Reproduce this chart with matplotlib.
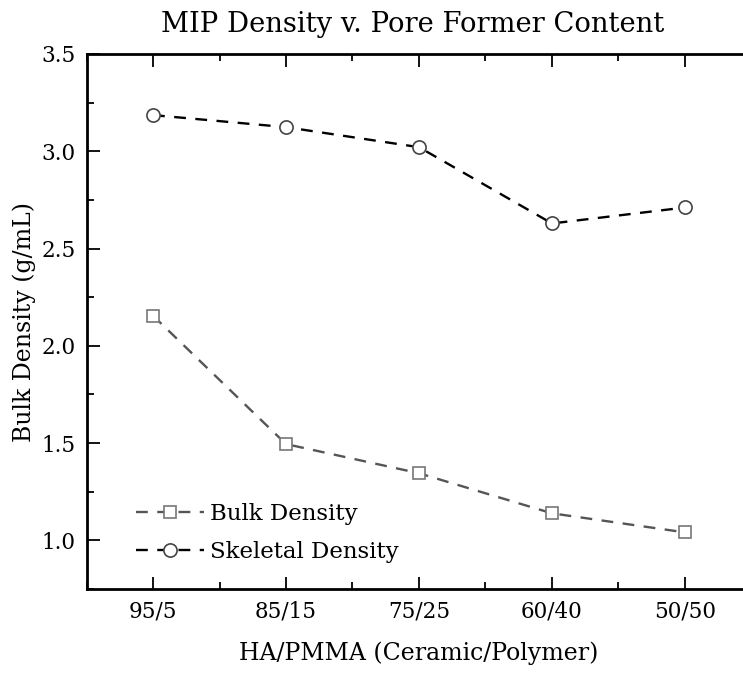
import numpy as np
import matplotlib.pyplot as plt
from matplotlib.ticker import MultipleLocator

plt.rcParams['font.family'] = ['DejaVu Serif']

categories = ["95/5", "85/15", "75/25", "60/40", "50/50"]
bulk_density = [2.155, 1.495, 1.345, 1.139, 1.041]
skeletal_density = [3.186, 3.124, 3.021, 2.629, 2.711]

fig = plt.figure(figsize=(7.43, 6.74), dpi=100)
ax = fig.add_axes([86.5 / 743, 1 - 589 / 674, 665 / 743, 535 / 674])

x = np.arange(len(categories))
ax.plot(x, bulk_density, color="#555555", lw=1.7, dashes=(5, 4),
        marker="s", ms=8, mfc="white", mec="#777777", mew=1.2,
        label="Bulk Density")
ax.plot(x, skeletal_density, color="black", lw=1.7, dashes=(5, 4),
        marker="o", ms=9.5, mfc="white", mec="#444444", mew=1.2,
        label="Skeletal Density")

ax.set_xlim(-0.5, 4.5)
ax.set_ylim(0.75, 3.5)
ax.set_xticks(x)
ax.set_xticklabels(categories)
ax.xaxis.set_minor_locator(MultipleLocator(0.5))
ax.yaxis.set_major_locator(MultipleLocator(0.5))
ax.yaxis.set_minor_locator(MultipleLocator(0.25))

ax.tick_params(which="both", direction="in", top=True, right=False,
               labelsize=15.5, width=1.3, pad=8)
ax.tick_params(which="major", length=9)
ax.tick_params(which="minor", length=5)
for s in ax.spines.values():
    s.set_linewidth(2)
ax.spines["right"].set_visible(False)

ax.set_title("MIP Density v. Pore Former Content", fontsize=19.7, pad=16,
             x=0.491)
ax.set_xlabel("HA/PMMA (Ceramic/Polymer)", fontsize=17, labelpad=14)
ax.set_ylabel("Bulk Density (g/mL)", fontsize=17, labelpad=4)

ax.legend(loc="lower left", frameon=False, fontsize=16.5,
          bbox_to_anchor=(0.043, 0.01), handlelength=3.0, handletextpad=0.25,
          labelspacing=0.72)

fig.savefig("out.png", dpi=100)
